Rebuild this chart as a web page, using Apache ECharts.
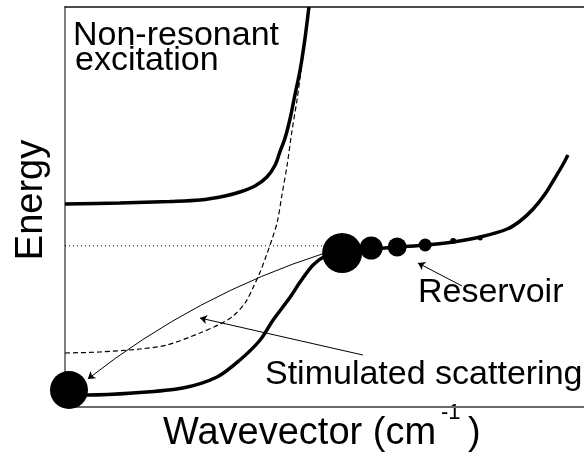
<!DOCTYPE html>
<html>
<head>
<meta charset="utf-8">
<script src="https://cdn.jsdelivr.net/npm/echarts@6/dist/echarts.min.js"></script>
<style>
  html, body { margin: 0; padding: 0; background: #fff; }
  #chart { width: 584px; height: 459px; }
</style>
</head>
<body>
<div id="chart"></div>
<script>
// Dispersion curves (wavevector and energy in arbitrary units)
const upperK = [0, 1.06, 2.02, 2.60, 3.08, 3.37, 3.66, 3.89, 4.05, 4.14, 4.24, 4.34, 4.43, 4.53, 4.62, 4.70];
const upperE = [5.075, 5.10, 5.14, 5.175, 5.275, 5.375, 5.525, 5.75, 6.05, 6.375, 6.725, 7.225, 7.80, 8.425, 9.175, 10.0];

const photonK = [0, 0.67, 1.445, 1.965, 2.60, 2.99, 3.24, 3.47, 3.62, 3.76, 3.89, 3.99, 4.09, 4.18, 4.28, 4.37, 4.47, 4.57, 4.64, 4.68];
const photonE = [1.35, 1.375, 1.45, 1.55, 1.85, 2.075, 2.275, 2.60, 2.975, 3.375, 3.825, 4.20, 4.625, 5.30, 6.05, 6.875, 7.675, 8.625, 9.425, 9.925];

const lowerK = [0.077, 0.424, 1.31, 2.27, 2.93, 3.37, 3.76, 4.01, 4.34, 4.53, 4.78, 5.05, 5.34, 5.92, 6.40, 6.96, 7.48, 8.00, 8.52, 8.77, 9.02, 9.25, 9.44, 9.60, 9.69];
const lowerE = [0.325, 0.30, 0.35, 0.475, 0.75, 1.175, 1.675, 2.175, 2.75, 3.125, 3.55, 3.80, 3.90, 3.95, 4.00, 4.05, 4.125, 4.25, 4.45, 4.65, 4.95, 5.325, 5.725, 6.075, 6.30];

// Pump (reservoir) energy level
const pumpLevelK = [0, 5.0];
const pumpLevelE = [4.03, 4.03];

// Polariton populations sitting on the lower branch
const popK = [0.077, 5.34, 5.90, 6.40, 6.94, 7.48, 8.00];
const popE = [0.425, 3.85, 3.975, 4.00, 4.05, 4.15, 4.225];
const popN = [1.9, 2.0, 1.15, 0.95, 0.65, 0.3, 0.25];

// Arrows: [startK, startE, endK, endE]
const scatterArrow = [5.01, 3.85, 0.44, 0.70];
const stimArrow = [5.74, 1.30, 2.60, 2.225];
const reservoirArrow = [7.65, 3.025, 6.80, 3.60];

const zip = (a, b) => a.map((v, i) => [v, b[i]]);

const chart = echarts.init(document.getElementById('chart'));
const FONT = '"Liberation Sans", Arial, sans-serif';

chart.setOption({
  animation: false,
  backgroundColor: '#fff',
  grid: { left: 65, right: 0, top: 7, bottom: 52 },
  xAxis: [
    {
      type: 'value', min: 0, max: 10,
      axisLine: { show: true, onZero: false, lineStyle: { color: '#6a6a6a', width: 2 } },
      axisTick: { show: false }, axisLabel: { show: false }, splitLine: { show: false }
    },
    {
      type: 'value', min: 0, max: 10, position: 'top',
      axisLine: { show: true, onZero: false, lineStyle: { color: '#111', width: 1.5 } },
      axisTick: { show: false }, axisLabel: { show: false }, splitLine: { show: false }
    }
  ],
  yAxis: {
    type: 'value', min: 0, max: 10,
    axisLine: { show: true, onZero: false, lineStyle: { color: '#555', width: 1.5 } },
    axisTick: { show: false }, axisLabel: { show: false }, splitLine: { show: false }
  },
  series: [
    {
      type: 'line', data: zip(upperK, upperE), smooth: 0.3, showSymbol: false,
      lineStyle: { color: '#000', width: 3.5 }
    },
    {
      type: 'line', data: zip(photonK, photonE), smooth: 0.3, showSymbol: false,
      lineStyle: { color: '#000', width: 1.2, type: [5, 3] }
    },
    {
      type: 'line', data: zip(lowerK, lowerE), smooth: 0.3, showSymbol: false,
      lineStyle: { color: '#000', width: 3.5 }
    },
    {
      type: 'line', data: zip(pumpLevelK, pumpLevelE), showSymbol: false,
      lineStyle: { color: '#000', width: 1, type: [1, 3] }
    },
    {
      type: 'scatter', data: popK.map((k, i) => [k, popE[i], popN[i]]),
      symbol: 'circle', symbolSize: d => d[2] * 20,
      itemStyle: { color: '#000', opacity: 1 }, z: 5
    },
    {
      type: 'lines', coordinateSystem: 'cartesian2d',
      symbol: ['none', 'arrow'], symbolSize: 7,
      lineStyle: { color: '#000', width: 1, opacity: 1 },
      data: [
        { coords: [[scatterArrow[0], scatterArrow[1]], [scatterArrow[2], scatterArrow[3]]], lineStyle: { curveness: -0.09 } },
        { coords: [[stimArrow[0], stimArrow[1]], [stimArrow[2], stimArrow[3]]] },
        { coords: [[reservoirArrow[0], reservoirArrow[1]], [reservoirArrow[2], reservoirArrow[3]]] }
      ],
      z: 4
    }
  ],
  graphic: [
    { type: 'text', x: 73, y: 35.5, style: { text: 'Non-resonant', font: '34px ' + FONT, fill: '#000', textVerticalAlign: 'middle' } },
    { type: 'text', x: 75, y: 61, style: { text: 'excitation', font: '34px ' + FONT, fill: '#000', textVerticalAlign: 'middle' } },
    { type: 'text', x: 265, y: 374.5, style: { text: 'Stimulated scattering', font: '34px ' + FONT, fill: '#000', textVerticalAlign: 'middle' } },
    { type: 'text', x: 418, y: 293, style: { text: 'Reservoir', font: '34px ' + FONT, fill: '#000', textVerticalAlign: 'middle' } },
    { type: 'text', x: 163, y: 433.5, style: { text: 'Wavevector (cm', font: '38px ' + FONT, fill: '#000', textVerticalAlign: 'middle' } },
    { type: 'text', x: 441, y: 413, style: { text: '-1', font: '22px ' + FONT, fill: '#000', textVerticalAlign: 'middle' } },
    { type: 'text', x: 468, y: 433.5, style: { text: ')', font: '38px ' + FONT, fill: '#000', textVerticalAlign: 'middle' } },
    { type: 'text', x: 32, y: 200, rotation: Math.PI / 2, style: { text: 'Energy', font: '38px ' + FONT, fill: '#000', textAlign: 'center', textVerticalAlign: 'middle' } }
  ]
});
</script>
</body>
</html>
